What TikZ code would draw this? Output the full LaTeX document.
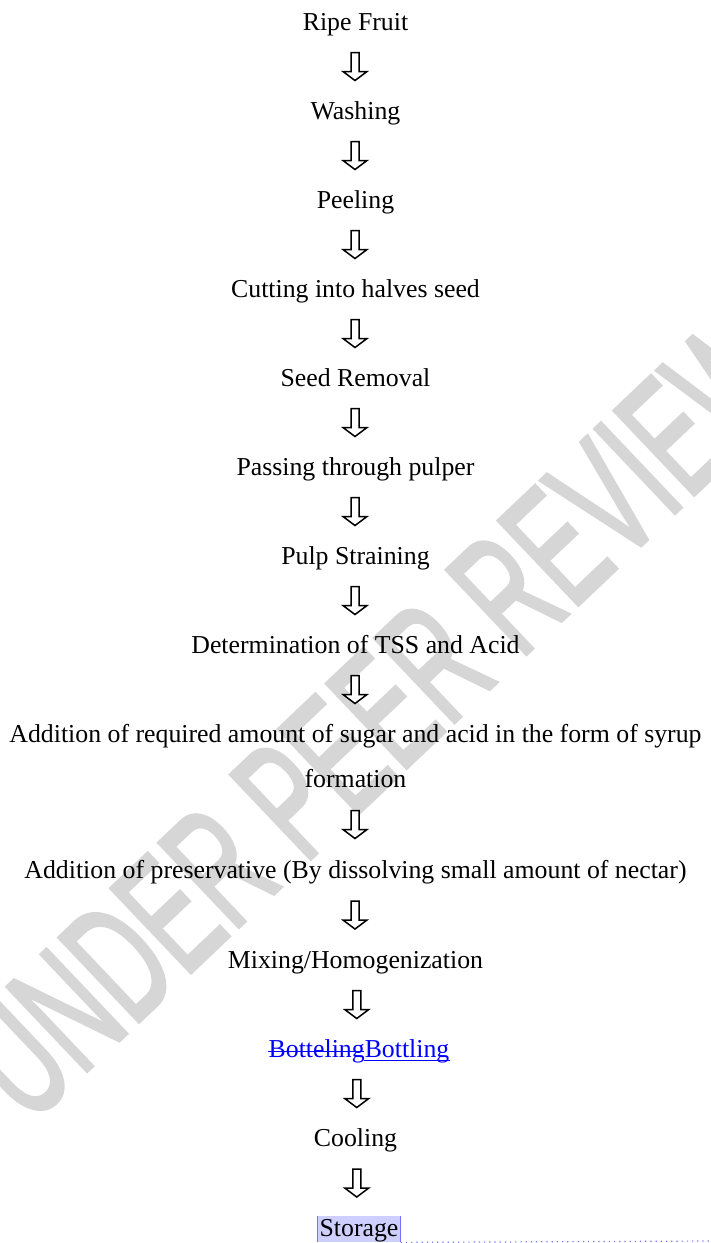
\documentclass[tikz,border=0pt]{standalone}
\usepackage{fontspec}
\setmainfont{Liberation Serif}
\newfontfamily\markfont[FakeBold=2.5]{Liberation Sans}
\usepackage{tikz}
\usetikzlibrary{calc}

\newcommand{\stagefont}{\fontsize{12.9}{15}\selectfont}
\newlength{\oldwordwd}
\definecolor{markgray}{RGB}{214,214,214}
\definecolor{hilite}{RGB}{206,206,255}
\definecolor{editblue}{RGB}{0,0,255}

\tikzset{
  stage/.style={font=\stagefont, inner sep=0pt, anchor=base},
  hollow/.style={draw=black, line width=0.75pt, fill=white, line join=miter},
  editline/.style={draw=editblue, line width=0.5pt},
}

\begin{document}
\settowidth{\oldwordwd}{\stagefont Botteling}
\begin{tikzpicture}[x=0.5pt, y=-0.5pt]
      \clip (0,0) rectangle (711,1243);
      % Watermark
      \node[markgray, font=\markfont\fontsize{84}{84}\selectfont, rotate=43.5, inner sep=0pt]
        (mark) at (377,717) {\scalebox{0.59}[1]{UNDER PEER REVIEW}};
      % Process steps
      \node[stage] (ripe) at (355.5,30) {Ripe Fruit};
      \node[stage] (wash) at (355.5,119) {Washing};
      \node[stage] (peel) at (355.5,208) {Peeling};
      \node[stage] (cut) at (355.5,297) {Cutting into halves seed};
      \node[stage] (seed) at (355.5,386) {Seed Removal};
      \node[stage] (pulper) at (355.5,475) {Passing through pulper};
      \node[stage] (strain) at (355.5,564) {Pulp Straining};
      \node[stage] (tss) at (355.5,653) {Determination of TSS and Acid};
      \node[stage] (syrup) at (355.5,742) {Addition of required amount of sugar and acid in the form of syrup};
      \node[stage] (form) at (355.5,787) {formation};
      \node[stage] (presv) at (355.5,878) {Addition of preservative (By dissolving small amount of nectar)};
      \node[stage] (mix) at (355.5,968) {Mixing/Homogenization};
      \node[stage, text=editblue] (bottle) at (359,1057) {BottelingBottling};
      \draw[editline] (bottle.base west) ++(0,-5.5) -- ++(\oldwordwd,0);
      \draw[editline] ($(bottle.base west)+(\oldwordwd,3.5)$) -- ($(bottle.base east)+(0,3.5)$);
      \node[stage] (cool) at (355.5,1146) {Cooling};
      \node[stage, fill=hilite, inner xsep=1pt, text height=10pt, text depth=3pt] (store) at (359,1236) {Storage};
      \draw[blue!55, line width=0.5pt] (store.south west) -- (store.north west);
      \draw[blue!55, line width=0.5pt] (store.south east) -- (store.north east);
      \coordinate (pageedge) at (711,1241);
      \draw[blue!55, dotted, line width=0.6pt] (store.south east) -- (pageedge);
      % Hollow down arrows
      \foreach \a/\b in {ripe/wash, wash/peel, peel/cut, cut/seed, seed/pulper, pulper/strain,
                         strain/tss, tss/syrup, form/presv, presv/mix, mix/bottle, bottle/cool, cool/store}
        \draw[hollow] ($(\a.base)!0.5!(\b.base)+(-0.5,-8)$) ++(-4,-14) -- ++(8,0) -- ++(0,19)
          -- ++(8,0) -- ++(-12,9) -- ++(-12,-9) -- ++(8,0) -- cycle;
\end{tikzpicture}
\end{document}
